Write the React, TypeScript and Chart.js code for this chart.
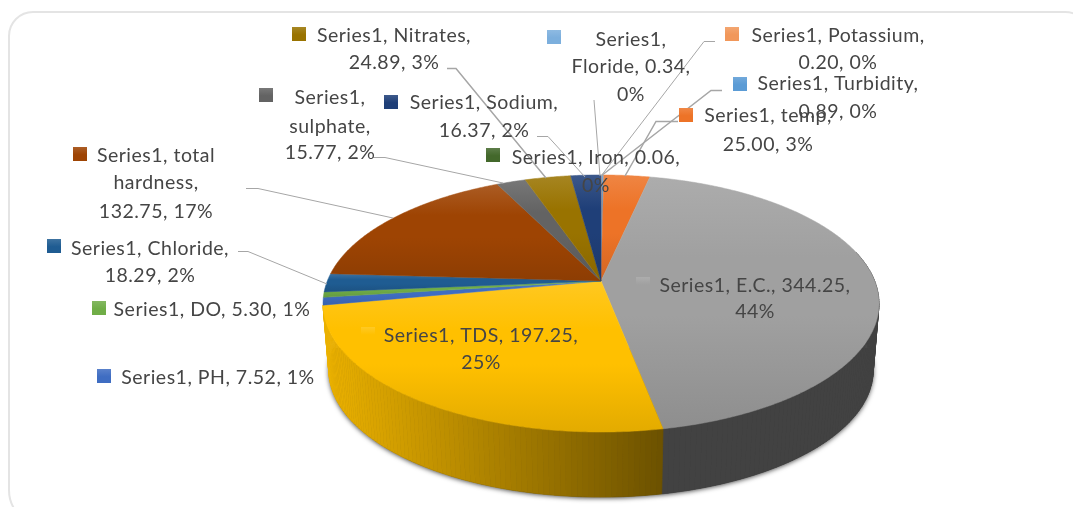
import React, { useEffect, useRef } from "react";
import { Chart, registerables } from "chart.js";

Chart.register(...registerables);

const categories = ["Iron", "Floride", "Potassium", "Turbidity", "temp", "E.C.", "TDS", "PH", "DO", "Chloride", "total hardness", "sulphate", "Nitrates", "Sodium"];
const seriesValues = [0.06, 0.34, 0.2, 0.89, 25.0, 344.25, 197.25, 7.52, 5.3, 18.29, 132.75, 15.77, 24.89, 16.37];
const percents = [0, 0, 0, 0, 3, 44, 25, 1, 1, 2, 17, 2, 3, 2];
const sliceColors = ["#43682B", "#7CAFDD", "#F1975A", "#5B9BD5", "#ED7327", "#A0A0A0", "#FFC000", "#3F6DC2", "#70AD47", "#1F5C92", "#9E4403", "#636363", "#997300", "#1F3F78"];

type Layout = { key: [number, number]; cx: number; ys: number[]; breaks: number[]; leader?: number[][]; lw?: number };
const layouts: Layout[] = [
  { key: [486, 148], cx: 596, ys: [158, 186], breaks: [3] },
  { key: [547, 30], cx: 631, ys: [40, 67, 95], breaks: [1, 3], leader: [[594, 100], [600, 176]], lw: 1 },
  { key: [725, 27], cx: 838, ys: [36, 63], breaks: [2], leader: [[715, 41.5], [704, 41.5], [601, 176]], lw: 1 },
  { key: [733, 77], cx: 838, ys: [84, 112], breaks: [2], leader: [[722, 90.5], [711, 90.5], [601, 176]], lw: 1.5 },
  { key: [679, 108], cx: 768, ys: [116, 145], breaks: [2], leader: [[678, 121.5], [656, 121.5], [625, 176]], lw: 1.5 },
  { key: [636, 277], cx: 755, ys: [286, 312], breaks: [3] },
  { key: [361, 327], cx: 481, ys: [336, 363], breaks: [3] },
  { key: [97, 369], cx: 218, ys: [378], breaks: [] },
  { key: [92, 301], cx: 212, ys: [310], breaks: [] },
  { key: [47, 239], cx: 150, ys: [249, 276], breaks: [2], leader: [[238, 251.5], [248, 251.5], [327, 284]], lw: 1 },
  { key: [73, 147], cx: 156, ys: [156, 183, 212], breaks: [2, 3], leader: [[246, 188.5], [258, 188.5], [393, 218]], lw: 1 },
  { key: [259, 88], cx: 330, ys: [98, 127, 153], breaks: [1, 2], leader: [[373, 157.5], [385, 157.5], [503, 183]], lw: 1 },
  { key: [292, 27], cx: 394, ys: [36, 63], breaks: [2], leader: [[447, 68.5], [456, 68.5], [546, 178]], lw: 1.5 },
  { key: [384, 95], cx: 484, ys: [103, 131], breaks: [2], leader: [[537, 136.5], [548, 136.5], [585, 177]], lw: 1 },
];

const APEX_X = 601, APEX_Y = 281, PERSP = -0.175;
const TOP = { a: 273.7, b: 124.6, cy: APEX_Y };
const BOTTOM = { a: 268, b: 123, cy: 348 };
const project = (p: { a: number; b: number; cy: number }, th: number): [number, number] => {
  const u = Math.cos(th), v = Math.sin(th), w = 1 + PERSP * v;
  return [APEX_X + (p.a * u) / w, p.cy + (p.b * v) / w];
};

const rgb = (hex: string) => [1, 3, 5].map((i) => parseInt(hex.slice(i, i + 2), 16));
const shade = (hex: string, f: number) => `rgb(${rgb(hex).map((c) => Math.round(c * f)).join(",")})`;
const tint = (hex: string, f: number) => `rgb(${rgb(hex).map((c) => Math.round(c + (255 - c) * f)).join(",")})`;
const sideFactor = (x: number) => (x >= 665 ? 0.41 : 0.92 - ((x - 325) / 340) * 0.5);

const pie3d = {
  id: "pie3d",
  beforeDatasetsDraw(chart: any) {
    const ctx: CanvasRenderingContext2D = chart.ctx;
    const arcs: any[] = chart.getDatasetMeta(0).data;
    const colors: string[] = chart.data.datasets[0].backgroundColor;

    ctx.save();
    ctx.strokeStyle = "#e4e4e4";
    ctx.lineWidth = 2;
    ctx.beginPath();
    ctx.roundRect(9, 12, 1080, 514, [24, 24, 24, 36]);
    ctx.stroke();

    // drop shadow
    ctx.save();
    ctx.shadowColor = "rgba(0,0,0,0.75)";
    ctx.shadowBlur = 5;
    ctx.shadowOffsetY = 1;
    ctx.fillStyle = "#333";
    ctx.beginPath();
    for (let i = 0; i <= 180; i += 2) {
      const [x, y] = project(BOTTOM, (i * Math.PI) / 180);
      i === 0 ? ctx.moveTo(x, y) : ctx.lineTo(x, y);
    }
    ctx.closePath();
    ctx.fill();
    ctx.restore();

    // side wall
    const step = Math.PI / 180;
    arcs.forEach((arc, idx) => {
      const { startAngle, endAngle } = arc.getProps(["startAngle", "endAngle"], true);
      if (Math.max(Math.sin(startAngle), Math.sin(endAngle)) < 0.25) return;
      for (let t = startAngle; t < endAngle; t += step) {
        const t2 = Math.min(t + step, endAngle);
        if (Math.sin(t) < -0.25) continue;
        const a = project(TOP, t), b = project(TOP, t2), c = project(BOTTOM, t2), d = project(BOTTOM, t);
        const col = shade(colors[idx], sideFactor((a[0] + b[0]) / 2));
        ctx.fillStyle = col;
        ctx.strokeStyle = col;
        ctx.lineWidth = 0.7;
        ctx.beginPath();
        ctx.moveTo(...a); ctx.lineTo(...b); ctx.lineTo(...c); ctx.lineTo(...d);
        ctx.closePath();
        ctx.fill();
        ctx.stroke();
      }
    });

    // top face, each slice with its own vertical gradient
    arcs.forEach((arc, idx) => {
      const { startAngle, endAngle } = arc.getProps(["startAngle", "endAngle"], true);
      const pts: [number, number][] = [[APEX_X, APEX_Y]];
      for (let t = startAngle; t < endAngle; t += step / 2) pts.push(project(TOP, t));
      pts.push(project(TOP, endAngle));
      const ys = pts.map((p) => p[1]);
      const y0 = Math.min(...ys), y1 = Math.max(...ys);
      const g = ctx.createLinearGradient(0, y0, 0, Math.max(y1, y0 + 1));
      g.addColorStop(0, tint(colors[idx], 0.13));
      g.addColorStop(0.32, colors[idx]);
      g.addColorStop(0.55, colors[idx]);
      g.addColorStop(1, shade(colors[idx], 0.89));
      ctx.fillStyle = g;
      ctx.strokeStyle = g;
      ctx.lineWidth = 0.5;
      ctx.beginPath();
      pts.forEach((p, i) => (i ? ctx.lineTo(p[0], p[1]) : ctx.moveTo(p[0], p[1])));
      ctx.closePath();
      ctx.fill();
      ctx.stroke();
    });
    ctx.restore();
    return false;
  },
  afterDraw(chart: any) {
    const ctx: CanvasRenderingContext2D = chart.ctx;
    const colors: string[] = chart.data.datasets[0].backgroundColor;
    ctx.save();
    layouts.forEach((l) => {
      if (!l.leader) return;
      ctx.strokeStyle = "#a6a6a6";
      ctx.lineWidth = l.lw || 1;
      ctx.beginPath();
      l.leader.forEach((p, i) => (i ? ctx.lineTo(p[0], p[1]) : ctx.moveTo(p[0], p[1])));
      ctx.stroke();
    });
    ctx.font = '19.5px "Lato"';
    (ctx as any).letterSpacing = "0.5px";
    ctx.textAlign = "center";
    ctx.textBaseline = "middle";
    categories.forEach((name, i) => {
      const l = layouts[i];
      const tokens = `Series1, ${name}, ${seriesValues[i].toFixed(2)}, ${percents[i]}%`.split(" ");
      const cuts = [0, ...l.breaks, tokens.length];
      const [kx, ky] = l.key;
      const g = ctx.createLinearGradient(0, ky, 0, ky + 14);
      g.addColorStop(0, tint(colors[i], 0.14));
      g.addColorStop(0.55, colors[i]);
      g.addColorStop(1, colors[i]);
      ctx.fillStyle = g;
      ctx.fillRect(kx, ky, 14, 14);
      ctx.fillStyle = "#454545";
      l.ys.forEach((y, j) => ctx.fillText(tokens.slice(cuts[j], cuts[j + 1]).join(" "), l.cx, y));
    });
    ctx.restore();
  },
};

export default function App() {
  const ref = useRef<HTMLCanvasElement>(null);
  useEffect(() => {
    const chart = new Chart(ref.current!, {
      type: "pie",
      data: {
        labels: categories,
        datasets: [{ label: "Series1", data: seriesValues, backgroundColor: sliceColors, borderWidth: 0 }],
      },
      options: {
        animation: false,
        responsive: false,
        rotation: 0,
        plugins: { legend: { display: false }, tooltip: { enabled: false } },
      },
      plugins: [pie3d],
    });
    return () => chart.destroy();
  }, []);
  return (
    <canvas
      ref={ref}
      width={1073}
      height={507}
      style={{ position: "absolute", left: 0, top: 0, width: 1073, height: 507, background: "#fff" }}
    />
  );
}
